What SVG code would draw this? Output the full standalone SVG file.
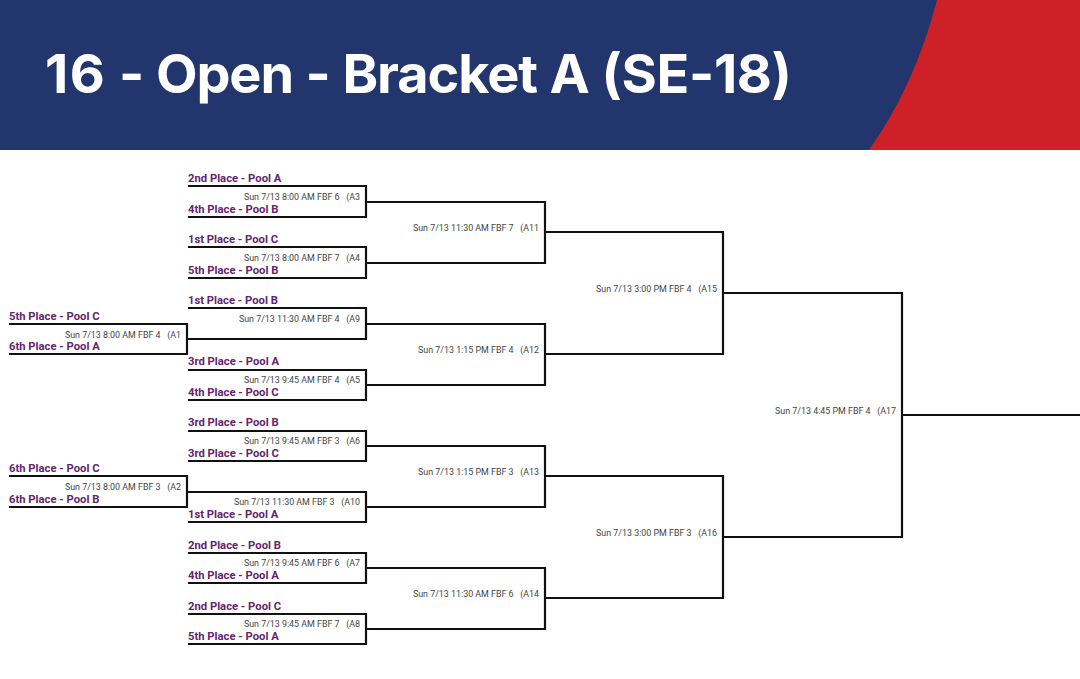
<svg xmlns="http://www.w3.org/2000/svg" width="1080" height="679" viewBox="0 0 1080 679">
<style>
.t{font-family:Roboto,"Liberation Sans",sans-serif;font-size:11.25px;font-weight:700;fill:#64246c}
.g{font-family:Roboto,"Liberation Sans",sans-serif;font-size:8.9px;font-weight:400;fill:#444;text-anchor:end;white-space:pre}
.c{fill:none;stroke:#111;stroke-width:2.2}
.h{font-family:Inter,Roboto,"Liberation Sans",sans-serif;font-size:54px;font-weight:700;fill:#fff;font-variation-settings:"opsz" 32;letter-spacing:-1.1px;word-spacing:1px}
</style>
<rect width="1080" height="679" fill="#fff"/>
<g id="header">
<rect width="1080" height="150" fill="#22366d"/>
<path d="M937 0Q915 85 869 150H1080V0Z" fill="#cd2027"/>
<text class="h" x="45" y="93"><tspan letter-spacing="1.5">16</tspan> - Open - Bracket A <tspan letter-spacing="-.35">(SE-18)</tspan></text>
</g>
<g id="connectors">
<path class="c" d="M188 186H366V217H188M188 247H366V278H188M188 308H366V339H188M188 370H366V400H188M188 431H366V461H188M188 492H366V522H188M188 553H366V583H188M188 614H366V644H188"/>
<path class="c" d="M9 324H187V354H9M9 476H187V507H9"/>
<path class="c" d="M366 202H545V263H366M366 324H545V385H366M366 446H545V507H366M366 568H545V629H366"/>
<path class="c" d="M545 232H723V354H545M545 476H723V598H545"/>
<path class="c" d="M723 293H902V537H723M902 415H1080"/>
</g>
<g id="A3"><text class="t" x="188" y="182">2nd Place - Pool A</text><text class="g" x="360" y="200">Sun 7/13 8:00 AM FBF 6   (A3</text><text class="t" x="188" y="213">4th Place - Pool B</text></g>
<g id="A4"><text class="t" x="188" y="243">1st Place - Pool C</text><text class="g" x="360" y="261">Sun 7/13 8:00 AM FBF 7   (A4</text><text class="t" x="188" y="274">5th Place - Pool B</text></g>
<g id="A9"><text class="t" x="188" y="304">1st Place - Pool B</text><text class="g" x="360" y="322">Sun 7/13 11:30 AM FBF 4   (A9</text></g>
<g id="A1"><text class="t" x="9" y="320">5th Place - Pool C</text><text class="g" x="181" y="338">Sun 7/13 8:00 AM FBF 4   (A1</text><text class="t" x="9" y="350">6th Place - Pool A</text></g>
<g id="A5"><text class="t" x="188" y="365">3rd Place - Pool A</text><text class="g" x="360" y="383">Sun 7/13 9:45 AM FBF 4   (A5</text><text class="t" x="188" y="396">4th Place - Pool C</text></g>
<g id="A6"><text class="t" x="188" y="426">3rd Place - Pool B</text><text class="g" x="360" y="444">Sun 7/13 9:45 AM FBF 3   (A6</text><text class="t" x="188" y="457">3rd Place - Pool C</text></g>
<g id="A2"><text class="t" x="9" y="472">6th Place - Pool C</text><text class="g" x="181" y="490">Sun 7/13 8:00 AM FBF 3   (A2</text><text class="t" x="9" y="503">6th Place - Pool B</text></g>
<g id="A10"><text class="t" x="188" y="518">1st Place - Pool A</text><text class="g" x="360" y="505">Sun 7/13 11:30 AM FBF 3   (A10</text></g>
<g id="A7"><text class="t" x="188" y="549">2nd Place - Pool B</text><text class="g" x="360" y="566">Sun 7/13 9:45 AM FBF 6   (A7</text><text class="t" x="188" y="579">4th Place - Pool A</text></g>
<g id="A8"><text class="t" x="188" y="610">2nd Place - Pool C</text><text class="g" x="360" y="627">Sun 7/13 9:45 AM FBF 7   (A8</text><text class="t" x="188" y="640">5th Place - Pool A</text></g>
<g id="A11"><text class="g" x="539" y="231">Sun 7/13 11:30 AM FBF 7   (A11</text></g>
<g id="A12"><text class="g" x="539" y="353">Sun 7/13 1:15 PM FBF 4   (A12</text></g>
<g id="A13"><text class="g" x="539" y="475">Sun 7/13 1:15 PM FBF 3   (A13</text></g>
<g id="A14"><text class="g" x="539" y="597">Sun 7/13 11:30 AM FBF 6   (A14</text></g>
<g id="A15"><text class="g" x="717" y="292">Sun 7/13 3:00 PM FBF 4   (A15</text></g>
<g id="A16"><text class="g" x="717" y="536">Sun 7/13 3:00 PM FBF 3   (A16</text></g>
<g id="A17"><text class="g" x="896" y="414">Sun 7/13 4:45 PM FBF 4   (A17</text></g>
</svg>
